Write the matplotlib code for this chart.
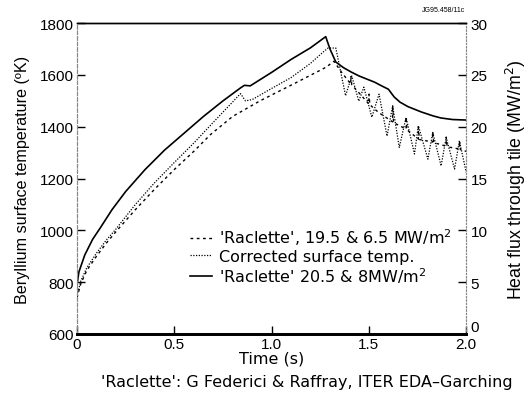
import matplotlib
matplotlib.use("Agg")
import matplotlib.pyplot as plt

plt.rcParams['font.family'] = ['Liberation Sans', 'DejaVu Sans']

# 'Raclette' 20.5 & 8 MW/m2 (solid)
solid_t = [0.0, 0.01, 0.04, 0.08, 0.12, 0.18, 0.25, 0.35, 0.45, 0.55, 0.65, 0.75, 0.84, 0.86, 0.89,
           1.0, 1.1, 1.2, 1.278, 1.30, 1.33, 1.37, 1.41, 1.45, 1.49, 1.53, 1.56, 1.60, 1.63, 1.66,
           1.70, 1.77, 1.83, 1.87, 1.93, 2.0]
solid_T = [790, 840, 905, 965, 1010, 1080, 1150, 1235, 1310, 1375, 1440, 1500, 1550, 1560, 1558,
           1610, 1660, 1705, 1748, 1700, 1650, 1628, 1611, 1596, 1584, 1572, 1560, 1545, 1515, 1495,
           1478, 1457, 1442, 1434, 1428, 1426]

# Corrected surface temperature (dotted)
corr_t = [0.0, 0.02, 0.05, 0.1, 0.15, 0.2, 0.3, 0.4, 0.5, 0.6, 0.7, 0.8, 0.84, 0.866, 0.9,
          1.0, 1.1, 1.2, 1.27, 1.29, 1.33, 1.38, 1.412, 1.448, 1.474, 1.515, 1.552, 1.593,
          1.622, 1.656, 1.691, 1.734, 1.754, 1.803, 1.828, 1.871, 1.897, 1.940, 1.965, 2.0]
corr_T = [750, 805, 855, 912, 962, 1005, 1100, 1185, 1262, 1337, 1417, 1496, 1528, 1500, 1505,
          1548, 1590, 1645, 1692, 1704, 1704, 1520, 1596, 1499, 1553, 1437, 1526, 1364,
          1481, 1320, 1436, 1295, 1404, 1275, 1378, 1249, 1359, 1237, 1346, 1224]

# 'Raclette', 19.5 & 6.5 MW/m2 (dashed)
rac_t = [0.0, 0.02, 0.05, 0.1, 0.15, 0.2, 0.3, 0.4, 0.5, 0.6, 0.686, 0.8, 0.94, 1.13, 1.28,
         1.32, 1.36, 1.407, 1.407, 1.412, 1.45, 1.50, 1.50, 1.505, 1.55, 1.622, 1.622, 1.627,
         1.691, 1.691, 1.696, 1.754, 1.754, 1.759, 1.828, 1.828, 1.833, 1.897, 1.897, 1.902,
         1.965, 1.965, 1.970, 2.0]
rac_T = [740, 795, 845, 900, 950, 995, 1080, 1160, 1235, 1305, 1370, 1440, 1500, 1572, 1630,
         1653, 1610, 1565, 1596, 1562, 1530, 1488, 1526, 1485, 1455, 1419, 1481, 1416,
         1391, 1437, 1388, 1353, 1399, 1351, 1341, 1380, 1339, 1325, 1360, 1323,
         1314, 1345, 1312, 1305]

wide = ['DejaVu Sans']

fig = plt.figure(figsize=(5.31, 4.10), dpi=100)
ax = fig.add_axes([0.145, 0.183, 0.733, 0.758])

ax.plot(rac_t, rac_T, color='black', lw=1.0, linestyle=(0, (2, 2.5)),
        label="'Raclette', 19.5 & 6.5 MW/m$^2$")
ax.plot(corr_t, corr_T, color='black', lw=0.9, linestyle=(0, (1, 1.2)),
        label='Corrected surface temp.')
ax.plot(solid_t, solid_T, color='black', lw=1.2,
        label="'Raclette' 20.5 & 8MW/m$^2$")

ax.set_xlim(0, 2.0)
ax.set_ylim(600, 1800)
ax.set_xticks([0, 0.5, 1.0, 1.5, 2.0])
ax.set_xticklabels(['0', '0.5', '1.0', '1.5', '2.0'])
ax.set_yticks([600, 800, 1000, 1200, 1400, 1600, 1800])
ax.tick_params(direction='in', length=6, width=1, labelsize=11, pad=2)
ax.set_xlabel('Time (s)', fontsize=11.5, labelpad=0, family=wide)
ax.set_ylabel('Beryllium surface temperature (ºK)', fontsize=11.6, labelpad=7)

ax2 = ax.twinx()
ax2.set_ylim(0, 30)
ax2.set_yticks([0, 5, 10, 15, 20, 25, 30])
ax2.tick_params(direction='in', length=6, width=1, labelsize=11, pad=3)
ax2.set_ylabel('Heat flux through tile (MW/m$^2$)', fontsize=12.8, labelpad=12)
ax2.yaxis.get_major_ticks()[0].label2.set_va('bottom')

for a in (ax, ax2):
    a.spines['bottom'].set_linewidth(2.0)
    a.spines['top'].set_linewidth(1.0)
    a.spines['left'].set_color('#888888')
    a.spines['left'].set_linestyle((0, (3, 2)))
    a.spines['right'].set_color('#888888')
    a.spines['right'].set_linestyle((0, (1, 2)))

leg = ax.legend(loc='upper left', bbox_to_anchor=(0.29, 0.345), frameon=False,
                prop={'family': wide, 'size': 11.5}, handlelength=1.4, handletextpad=0.4,
                labelspacing=0.08, borderpad=0, borderaxespad=0)

fig.text(0.876, 0.965, 'JG95.458/11c', fontsize=5, ha='right', va='bottom')
fig.text(0.577, 0.068, "'Raclette': G Federici & Raffray, ITER EDA–Garching",
         fontsize=11.5, ha='center', va='center', family=wide)

fig.savefig('out.png', dpi=100)
